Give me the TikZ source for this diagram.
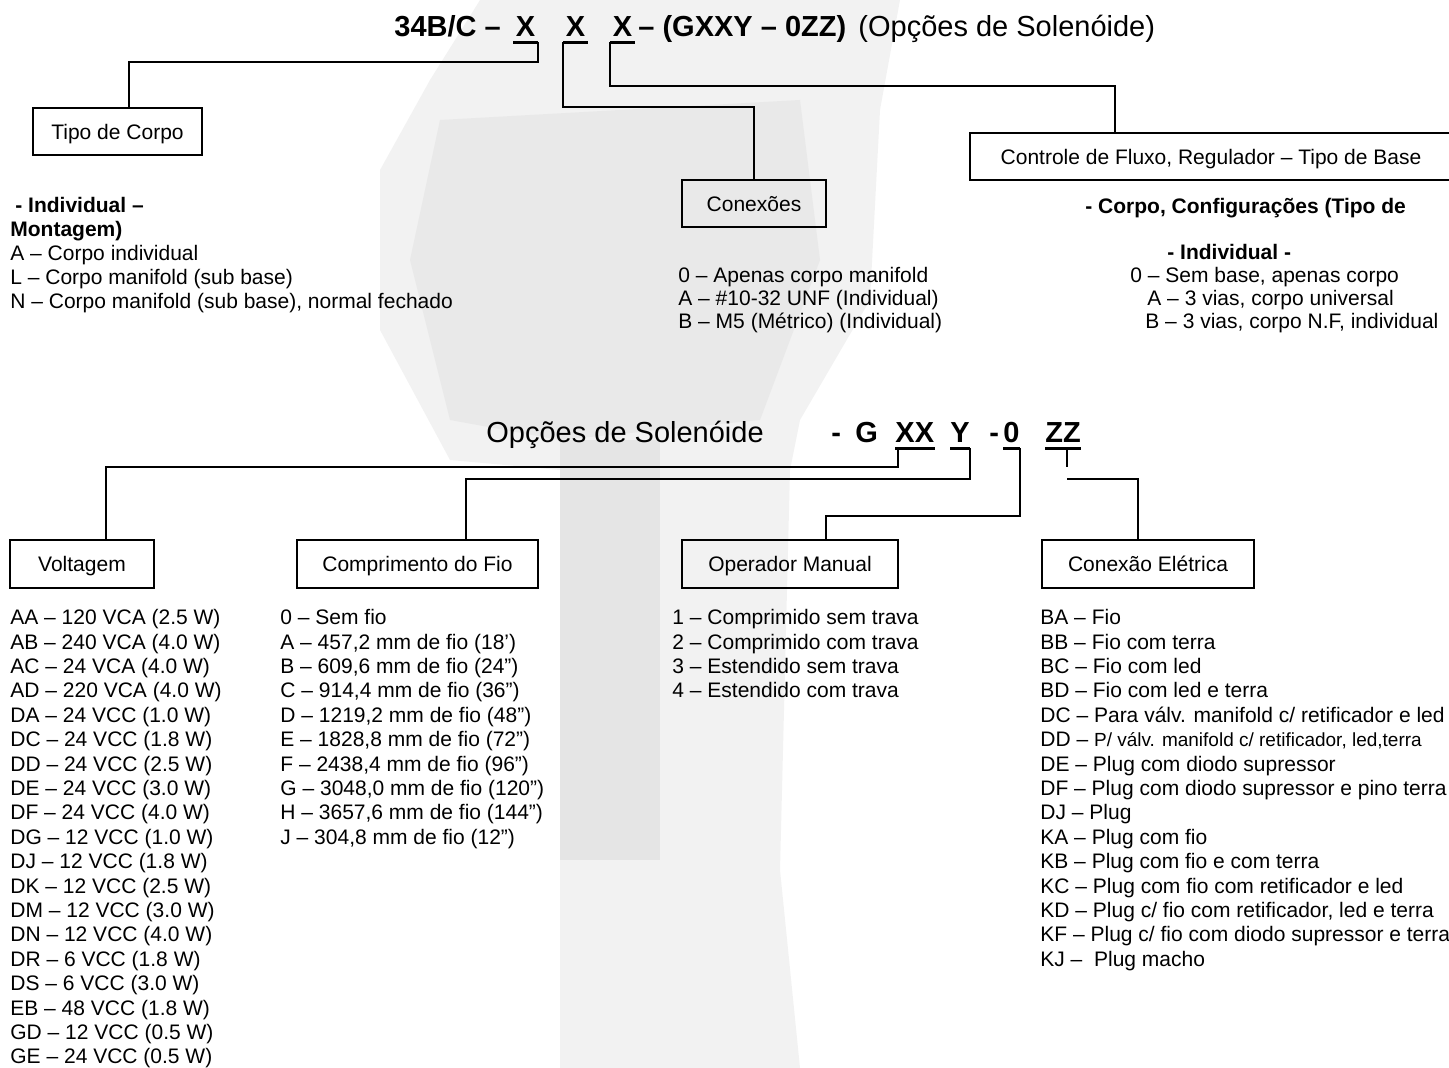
\documentclass[tikz,border=0pt]{standalone}
\usepackage{fontspec}
\setmainfont{Liberation Sans}

\tikzset{
  box/.style={draw, line width=0.9pt, inner sep=0pt, text height=7.6pt, text depth=0pt,
    font=\fontsize{10.5}{12}\selectfont},
  wire/.style={line width=0.9pt},
  uline/.style={line width=1.3pt},
  code/.style={anchor=base west, inner sep=0pt, font=\fontsize{14.5}{17}\selectfont\bfseries},
  codemark/.style={code, text depth=2.5pt},
  codetext/.style={anchor=base west, inner sep=0pt, font=\fontsize{14.5}{17}\selectfont},
  item/.style={anchor=base west, inner sep=0pt, font=\fontsize{10.5}{12}\selectfont},
  itemlist/.style={anchor=north west, inner sep=0pt, align=left, font=\fontsize{10.5}{12.2}\selectfont},
}

\begin{document}
\begin{tikzpicture}[x=0.5pt,y=-0.5pt]
  \useasboundingbox (0,0) rectangle (1449,1068);
  % faint picture behind the chart
  \fill[gray!10] (480,0) -- (900,0) -- (880,110) -- (870,300) -- (800,420) -- (790,470)
    -- (780,870) -- (800,1068) -- (560,1068) -- (560,470) -- (450,460) -- (380,330)
    -- (380,170) -- (430,80) -- cycle;
  \fill[gray!17] (440,120) -- (800,100) -- (820,260) -- (760,420) -- (560,440)
    -- (450,420) -- (410,260) -- cycle;
  \fill[gray!20] (560,440) -- (660,440) -- (660,860) -- (560,860) -- cycle;

  % code line
  \node[code] (head) at (394,37) {34B/C –};
  \node[codemark, inner xsep=1.25pt] (xa) at (513,37) {X};
  \node[codemark, inner xsep=1.25pt] (xb) at (563,37) {X};
  \node[codemark, inner xsep=1.25pt] (xc) at (610,37) {X};
  \node[code] (tail) at (638,37) {– (GXXY – 0ZZ)};
  \node[codetext] (opts) at (858,37) {(Opções de Solenóide)};
  \draw[uline] (xa.south west) -- (xa.south east);
  \draw[uline] (xb.south west) -- (xb.south east);
  \draw[uline] (xc.south west) -- (xc.south east);

  \node[box, minimum width=84.5pt, minimum height=23.5pt] (tipo) at (117.5,131.5) {Tipo de Corpo};
  \node[box, minimum width=72pt, minimum height=23.5pt] (conex) at (754,203.5) {Conexões};
  \node[box, minimum width=241pt, minimum height=23.5pt] (ctrl) at (1211,156.5) {Controle de Fluxo, Regulador – Tipo de Base};
  \coordinate (tipoin) at ([xshift=5.75pt]tipo.north);
  \coordinate (ctrlin) at ([xshift=-48pt]ctrl.north);

  \draw[wire] (xa.south east) -- (xa.south east |- 0,62) -| (tipoin);
  \draw[wire] (xb.south west) -- (xb.south west |- 0,107) -| (conex.north);
  \draw[wire] (xc.south west) -- (xc.south west |- 0,86) -| (ctrlin);

  \node[itemlist, font=\fontsize{10.5}{12}\selectfont] (corpolist) at (10,197) {%
    \hspace*{2.5pt}\textbf{- Individual –}\\
    \textbf{Montagem)}\\
    A – Corpo individual\\
    L – Corpo manifold (sub base)\\
    N – Corpo manifold (sub base), normal fechado};
  \node[itemlist, font=\fontsize{10.5}{11.5}\selectfont] (conexlist) at (678,267) {%
    0 – Apenas corpo manifold\\
    A – \#10-32 UNF (Individual)\\
    B – M5 (Métrico) (Individual)};
  \node[item, font=\fontsize{10.5}{12}\selectfont\bfseries] (basehead) at (1085,213.5) {- Corpo, Configurações (Tipo de};
  \node[item, font=\fontsize{10.5}{12}\selectfont\bfseries] (baseind) at (1167,259.5) {- Individual -};
  \node[item] (base0) at (1130,282.5) {0 – Sem base, apenas corpo};
  \node[item] (baseA) at (1147,305.5) {A – 3 vias, corpo universal};
  \node[item] (baseB) at (1145,328.5) {B – 3 vias, corpo N.F, individual};

  % solenoid code line
  \node[codetext] (solen) at (486,443) {Opções de Solenóide};
  \node[code] (gdash) at (831,443) {-};
  \node[code] (gg) at (855,443) {G};
  \node[codemark] (gxx) at (895,443) {XX};
  \node[codemark] (gy) at (950,443) {Y};
  \node[code] (gdash2) at (989,443) {-};
  \node[codemark] (g0) at (1003,443) {0};
  \node[codemark] (gzz) at (1045,443) {ZZ};
  \draw[uline] (gxx.south west) -- (gxx.south east);
  \draw[uline] (gy.south west) -- (gy.south east);
  \draw[uline] (g0.south west) -- (g0.south east);
  \draw[uline] (gzz.south west) -- (gzz.south east);

  \node[box, minimum width=72pt, minimum height=24pt] (volt) at (82,564) {Voltagem};
  \node[box, minimum width=120.5pt, minimum height=24pt] (comp) at (417.5,564) {Comprimento do Fio};
  \node[box, minimum width=108pt, minimum height=24pt] (oper) at (790,564) {Operador Manual};
  \node[box, minimum width=106pt, minimum height=24pt] (conel) at (1148,564) {Conexão Elétrica};
  \coordinate (voltin) at ([xshift=12pt]volt.north);
  \coordinate (compin) at ([xshift=24.25pt]comp.north);
  \coordinate (operin) at ([xshift=18pt]oper.north);
  \coordinate (conelin) at ([xshift=-5pt]conel.north);
  \coordinate (gxxout) at ([xshift=1.5pt]gxx.south west);
  \coordinate (zzout) at ([xshift=2pt]gzz.south);
  \coordinate (zzstub) at (zzout |- 0,467);
  \coordinate (zzbend) at (zzout |- 0,479);

  \draw[wire] (gxxout) -- (gxxout |- 0,467) -| (voltin);
  \draw[wire] (gy.south east) -- (gy.south east |- 0,479) -| (compin);
  \draw[wire] (g0.south east) -- (g0.south east |- 0,516) -| (operin);
  \draw[wire] (zzout) -- (zzstub);
  \draw[wire] (zzbend) -| (conelin);

  \node[itemlist] (voltlist) at (10,609) {%
    AA – 120 VCA (2.5 W)\\
    AB – 240 VCA (4.0 W)\\
    AC – 24 VCA (4.0 W)\\
    AD – 220 VCA (4.0 W)\\
    DA – 24 VCC (1.0 W)\\
    DC – 24 VCC (1.8 W)\\
    DD – 24 VCC (2.5 W)\\
    DE – 24 VCC (3.0 W)\\
    DF – 24 VCC (4.0 W)\\
    DG – 12 VCC (1.0 W)\\
    DJ – 12 VCC (1.8 W)\\
    DK – 12 VCC (2.5 W)\\
    DM – 12 VCC (3.0 W)\\
    DN – 12 VCC (4.0 W)\\
    DR – 6 VCC (1.8 W)\\
    DS – 6 VCC (3.0 W)\\
    EB – 48 VCC (1.8 W)\\
    GD – 12 VCC (0.5 W)\\
    GE – 24 VCC (0.5 W)};
  \node[itemlist] (complist) at (280,609) {%
    0 – Sem fio\\
    A – 457,2 mm de fio (18’)\\
    B – 609,6 mm de fio (24”)\\
    C – 914,4 mm de fio (36”)\\
    D – 1219,2 mm de fio (48”)\\
    E – 1828,8 mm de fio (72”)\\
    F – 2438,4 mm de fio (96”)\\
    G – 3048,0 mm de fio (120”)\\
    H – 3657,6 mm de fio (144”)\\
    J – 304,8 mm de fio (12”)};
  \node[itemlist] (operlist) at (672,609) {%
    1 – Comprimido sem trava\\
    2 – Comprimido com trava\\
    3 – Estendido sem trava\\
    4 – Estendido com trava};
  \node[itemlist] (conellist) at (1040,609) {%
    BA – Fio\\
    BB – Fio com terra\\
    BC – Fio com led\\
    BD – Fio com led e terra\\
    DC – Para válv. manifold c/ retificador e led\\
    DD – {\fontsize{9.5}{12.2}\selectfont P/ válv. manifold c/ retificador, led,terra}\\
    DE – Plug com diodo supressor\\
    DF – Plug com diodo supressor e pino terra\\
    DJ – Plug\\
    KA – Plug com fio\\
    KB – Plug com fio e com terra\\
    KC – Plug com fio com retificador e led\\
    KD – Plug c/ fio com retificador, led e terra\\
    KF – Plug c/ fio com diodo supressor e terra\\
    KJ – \ Plug macho};
\end{tikzpicture}
\end{document}
